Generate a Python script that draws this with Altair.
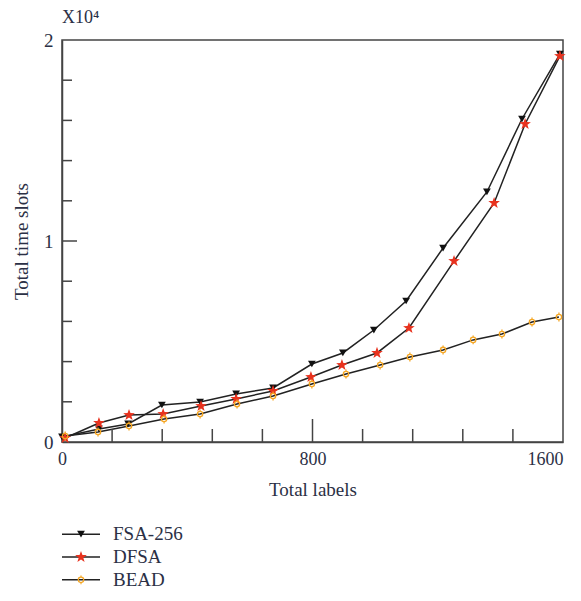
import altair as alt
import pandas as pd

# ---- data ----
series_names = ["FSA-256", "DFSA", "BEAD"]

fsa_x = [0, 118, 211, 319, 441, 556, 674, 798, 897, 996, 1099, 1217, 1357, 1469, 1590]
fsa_y = [250, 650, 900, 1840, 1990, 2390, 2690, 3880, 4430, 5570, 7015, 9650, 12440, 16070, 19300]

dfsa_x = [10, 118, 214, 323, 444, 556, 674, 795, 894, 1006, 1108, 1252, 1380, 1479, 1590]
dfsa_y = [200, 945, 1340, 1390, 1790, 2140, 2540, 3230, 3830, 4430, 5670, 9000, 11890, 15820, 19200]

bead_x = [10, 115, 214, 326, 441, 559, 674, 798, 907, 1016, 1111, 1217, 1313, 1405, 1501, 1587]
bead_y = [300, 500, 800, 1140, 1390, 1890, 2290, 2890, 3380, 3830, 4230, 4580, 5080, 5370, 5970, 6220]

x_labels = [0, 800, 1600]
y_labels = [0, 10000, 20000]
x_minor_ticks = [160, 320, 480, 640, 960, 1120, 1280, 1440]
x_major_ticks = [800]
y_minor_ticks = [2000, 4000, 6000, 8000, 12000, 14000, 16000, 18000]
y_major_ticks = [10000]

rows = []
for name, xs_, ys_ in [("FSA-256", fsa_x, fsa_y), ("DFSA", dfsa_x, dfsa_y), ("BEAD", bead_x, bead_y)]:
    for xv, yv in zip(xs_, ys_):
        rows.append({"series": name, "x": xv, "y": yv})
df = pd.DataFrame(rows)

FONT = "Liberation Serif"
TXT = "#2b3045"
AX = "#444444"

STAR = ("M0,-1L0.235,-0.324L0.951,-0.309L0.380,0.124L0.588,0.809L0,0.4"
        "L-0.588,0.809L-0.380,0.124L-0.951,-0.309L-0.235,-0.324Z")
BEAD_SYM = ("M0,-1L0,-0.6M0,0.6L0,1M-0.6,0A0.6,0.6 0 1,0 0.6,0A0.6,0.6 0 1,0 -0.6,0Z")

styles = {
    "FSA-256": dict(shape="triangle-down", filled=True, color="#111111", size=60),
    "DFSA": dict(shape=STAR, filled=True, color="#e8321e", size=150),
    "BEAD": dict(shape=BEAD_SYM, filled=False, color="#f5a623", size=80),
}

PW, PH = 501, 402
xs = alt.Scale(domain=[0, 1600], nice=False, zero=False)
ys = alt.Scale(domain=[0, 20000], nice=False, zero=False)

lines = alt.Chart(df).mark_line(color="#222222", strokeWidth=1.5).encode(
    x=alt.X("x:Q", scale=xs,
            axis=alt.Axis(values=x_labels, ticks=False, grid=False, title="Total labels",
                          format="d", labelFlush=False,
                          labelAlign={"condition": {"test": "datum.value == 1600", "value": "right"},
                                      "value": "center"},
                          labelFontSize=18, titleFontSize=19, labelFont=FONT, titleFont=FONT,
                          labelColor=TXT, titleColor=TXT, titleFontWeight="normal",
                          labelPadding=8, titlePadding=12, domainColor=AX, domainWidth=1.5)),
    y=alt.Y("y:Q", scale=ys,
            axis=alt.Axis(values=y_labels, ticks=False, grid=False, title="Total time slots",
                          labelExpr="datum.value / 10000",
                          labelFontSize=19, titleFontSize=19, labelFont=FONT, titleFont=FONT,
                          labelColor=TXT, titleColor=TXT, titleFontWeight="normal",
                          labelPadding=9, titlePadding=12, domainColor=AX, domainWidth=1.5)),
    detail="series:N",
)

point_layers = []
for name in series_names:
    st = styles[name]
    point_layers.append(
        alt.Chart(df).transform_filter(alt.datum.series == name).mark_point(
            shape=st["shape"], filled=st["filled"], color=st["color"], size=st["size"],
            strokeWidth=1.3, opacity=1,
        ).encode(x=alt.X("x:Q", scale=xs), y=alt.Y("y:Q", scale=ys))
    )

def xticks(vals, length):
    return alt.Chart(pd.DataFrame({"x": vals})).mark_rule(color=AX, strokeWidth=1.5).encode(
        x=alt.X("x:Q", scale=xs),
        y=alt.value(PH),
        y2=alt.value(PH - length),
    )

def yticks(vals, length):
    return alt.Chart(pd.DataFrame({"y": vals})).mark_rule(color=AX, strokeWidth=1.5).encode(
        y=alt.Y("y:Q", scale=ys),
        x=alt.value(0),
        x2=alt.value(length),
    )

main = alt.layer(
    lines, *point_layers,
    xticks(x_minor_ticks, 13), xticks(x_major_ticks, 23),
    yticks(y_minor_ticks, 10), yticks(y_major_ticks, 15),
).properties(
    width=PW, height=PH,
    view=alt.ViewBackground(stroke=AX, strokeWidth=1.5),
    title=alt.TitleParams("X10⁴", anchor="start", frame="group", fontSize=18, font=FONT,
                          fontWeight="normal", color=TXT, offset=4),
)

leg_df = pd.DataFrame({"series": series_names})
ly = alt.Y("series:N", sort=series_names,
           scale=alt.Scale(domain=series_names, type="point", padding=0.4), axis=None)
leg_layers = [alt.Chart(leg_df).mark_rule(color="#222222", strokeWidth=1.5).encode(
    y=ly, x=alt.value(0), x2=alt.value(38))]
for name in series_names:
    st = styles[name]
    leg_layers.append(
        alt.Chart(leg_df).transform_filter(alt.datum.series == name).mark_point(
            shape=st["shape"], filled=st["filled"], color=st["color"], size=st["size"],
            strokeWidth=1.3, opacity=1,
        ).encode(y=ly, x=alt.value(19))
    )
leg_layers.append(alt.Chart(leg_df).mark_text(align="left", baseline="middle", font=FONT,
                                              fontSize=19, color=TXT).encode(
    y=ly, x=alt.value(51), text="series:N"))
legend = alt.layer(*leg_layers).properties(
    width=200, height=64, view=alt.ViewBackground(stroke="transparent"))

chart = alt.vconcat(main, legend, spacing=24).properties(
    padding={"left": 3, "right": 0, "top": 0, "bottom": 0}
).configure_view(stroke="transparent")

chart.save("out.html", embed_options={"renderer": "svg", "actions": False})
